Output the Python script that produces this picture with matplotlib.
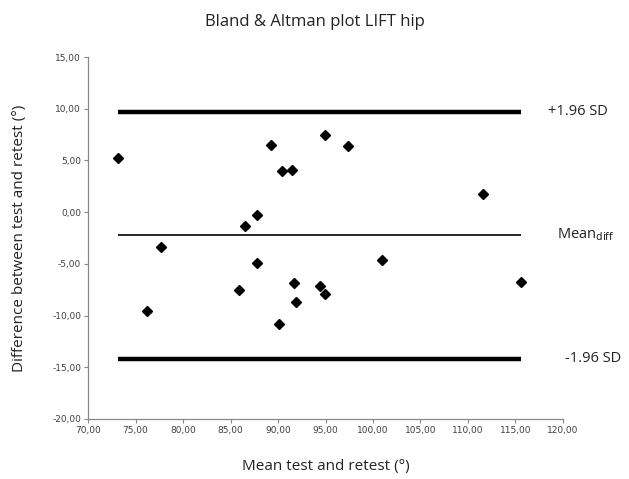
import matplotlib
matplotlib.use("Agg")
import matplotlib.pyplot as plt
from matplotlib.ticker import FuncFormatter, MultipleLocator

mean_vals = [73.1, 76.2, 77.7, 85.9, 86.5, 87.8, 87.8, 89.3, 90.1, 90.4,
             91.5, 91.65, 91.9, 94.45, 94.9, 94.95, 97.4, 100.9, 111.55, 115.6]
diff_vals = [5.2, -9.6, -3.4, -7.55, -1.3, -0.3, -4.95, 6.45, -10.8, 3.95,
             4.1, -6.9, -8.7, -7.15, -7.9, 7.45, 6.35, -4.6, 1.75, -6.75]
upper_loa = 9.72
mean_diff = -2.22
lower_loa = -14.16
labels = ["+1.96 SD", "Mean$_{\\mathrm{diff}}$", "-1.96 SD"]

fig = plt.figure(figsize=(6.29, 4.79), dpi=100)
ax = fig.add_axes([0.14, 0.1253, 0.755, 0.7557])

xmin, xmax = min(mean_vals), max(mean_vals)
ax.plot([xmin, xmax], [upper_loa, upper_loa], color="black", lw=3.2, solid_capstyle="butt")
ax.plot([xmin, xmax], [mean_diff, mean_diff], color="black", lw=1.2, solid_capstyle="butt")
ax.plot([xmin, xmax], [lower_loa, lower_loa], color="black", lw=3.2, solid_capstyle="butt")
ax.plot(mean_vals, diff_vals, linestyle="none", marker="D", color="black",
        markersize=5.3, zorder=3)

ax.set_xlim(70, 120)
ax.set_ylim(-20, 15)
ax.xaxis.set_major_locator(MultipleLocator(5))
ax.yaxis.set_major_locator(MultipleLocator(5))
fmt = FuncFormatter(lambda v, p: f"{v:.2f}".replace(".", ","))
ax.xaxis.set_major_formatter(fmt)
ax.yaxis.set_major_formatter(fmt)
ax.tick_params(axis="both", labelsize=6.5, colors="#404040", length=3, width=0.8,
               color="#888888", pad=2)
for s in ["top", "right"]:
    ax.spines[s].set_visible(False)
for s in ["left", "bottom"]:
    ax.spines[s].set_color("#888888")
    ax.spines[s].set_linewidth(0.9)

font = "Open Sans"
for y, lab, dx in zip([upper_loa, mean_diff, lower_loa], labels, [19.5, 26, 31.5]):
    ax.annotate(lab, xy=(xmax, y), xycoords="data", xytext=(dx, 0),
                textcoords="offset points", va="center", ha="left",
                fontsize=10.5, family=font, color="#222222", annotation_clip=False)

fig.text(0.5, 0.955, "Bland & Altman plot LIFT hip", ha="center", va="center",
         fontsize=12, family=font, color="#222222")
ax.set_xlabel("Mean test and retest (°)", fontsize=11, family=font, color="#222222",
              labelpad=17)
ax.set_ylabel("Difference between test and retest (°)", fontsize=11, family=font,
              color="#222222", labelpad=18)

fig.savefig("out.png", dpi=100)
